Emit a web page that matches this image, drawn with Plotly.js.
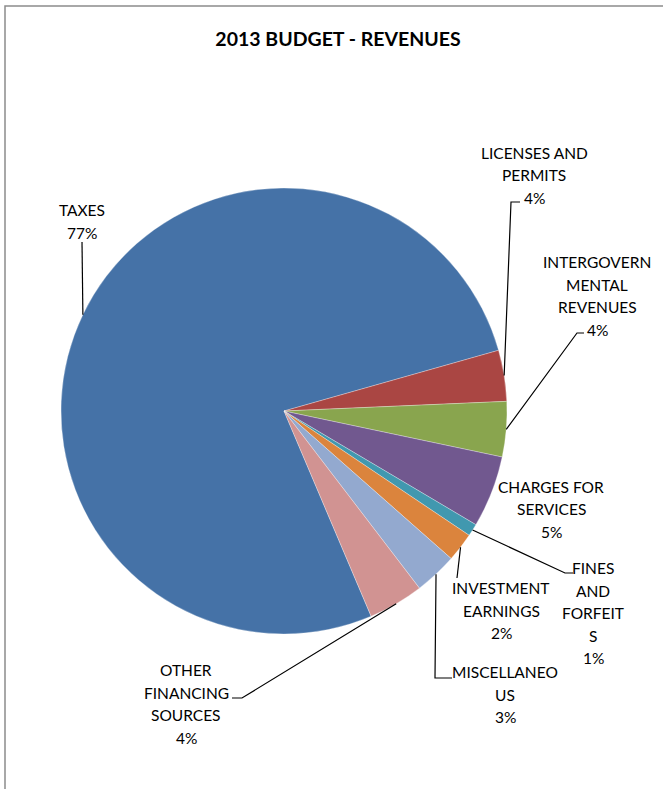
<!DOCTYPE html>
<html>
<head>
<meta charset="utf-8">
<script src="https://cdn.plot.ly/plotly-3.0.1.min.js"></script>
<style>html,body{margin:0;padding:0;background:#fff;}#chart{width:663px;height:789px;}</style>
</head>
<body>
<div id="chart"></div>
<script>
// ---- data ----
const categories = ["TAXES", "LICENSES AND PERMITS", "INTERGOVERNMENTAL REVENUES", "CHARGES FOR SERVICES",
  "FINES AND FORFEITS", "INVESTMENT EARNINGS", "MISCELLANEOUS", "OTHER FINANCING SOURCES"];
const values = [77.0, 3.7, 4.0, 5.2, 0.9, 2.1, 3.1, 4.0];
const labelLines = [
  ["TAXES"],
  ["LICENSES AND", "PERMITS"],
  ["INTERGOVERN", "MENTAL", "REVENUES"],
  ["CHARGES FOR", "SERVICES"],
  ["FINES", "AND", "FORFEIT", "S"],
  ["INVESTMENT", "EARNINGS"],
  ["MISCELLANEO", "US"],
  ["OTHER", "FINANCING", "SOURCES"]
];
const colors = ["#4572A7", "#AA4643", "#89A54E", "#71588F", "#4198AF", "#DB843D", "#93A9CF", "#D19392"];
const titleText = "2013 BUDGET - REVENUES";

// ---- layout constants (pixels) ----
const W = 663, H = 789;
const CX = 284, CY = 411, R = 223;
const ROT = 157;
const LINE_H = 22.5;
const labelPos = [[82,210],[534,153],[597,262],[551,487],[593,568],[501,588],[505,672],[186,670]];
const leaderPts = {
  0: [[82,242]],
  1: [[511,202],[520,202]],
  2: [[577,333],[584,333]],
  4: [[565,573],[573,573]],
  5: [[457,578]],
  6: [[435,678],[452,678]],
  7: [[242,698],[232,698]]
};
const FONT = "Lato, 'Open Sans', sans-serif";

const X = px => px / W;
const Y = py => 1 - py / H;

const total = values.reduce((a,b)=>a+b,0);
const annotations = [];
labelLines.forEach((lines, i) => {
  const pct = Math.round(values[i] / total * 100) + "%";
  const all = lines.concat([pct]);
  all.forEach((t, k) => {
    annotations.push({
      text: t, showarrow: false, xref: "paper", yref: "paper",
      x: X(labelPos[i][0]), y: Y(labelPos[i][1] + k * LINE_H),
      xanchor: "center", yanchor: "middle",
      font: {family: FONT, size: 15.5, color: "#000"}
    });
  });
});

const shapes = [];
let cum = 0;
values.forEach((v, i) => {
  const mid = (ROT + (cum + v / 2) / total * 360) * Math.PI / 180;
  cum += v;
  if (!leaderPts[i]) return;
  const sx = CX + R * Math.sin(mid), sy = CY - R * Math.cos(mid);
  let path = `M ${X(sx)} ${Y(sy)}`;
  leaderPts[i].forEach(p => { path += ` L ${X(p[0])} ${Y(p[1])}`; });
  shapes.push({type: "path", xref: "paper", yref: "paper", path: path, line: {color: "#000", width: 1.2}});
});
// chart frame
shapes.push({type: "rect", xref: "paper", yref: "paper", x0: X(5), y0: Y(800), x1: X(672), y1: Y(6),
  line: {color: "#8c8c8c", width: 1.5}, fillcolor: "rgba(0,0,0,0)"});

const trace = {
  type: "pie",
  labels: categories,
  values: values,
  sort: false,
  direction: "clockwise",
  rotation: ROT,
  textinfo: "none",
  hoverinfo: "label+percent",
  marker: {colors: colors, line: {color: "rgba(255,255,255,0.6)", width: 0.5}},
  domain: {x: [X(CX - R), X(CX + R)], y: [Y(CY + R), Y(CY - R)]},
  showlegend: false
};

const layout = {
  width: W, height: H,
  margin: {l: 0, r: 0, t: 0, b: 0},
  paper_bgcolor: "#fff",
  title: {text: "<b>" + titleText + "</b>", x: X(338), xanchor: "center", y: Y(39), yanchor: "middle",
    xref: "paper", yref: "paper", font: {family: FONT, size: 19.5, color: "#000"}},
  annotations: annotations,
  shapes: shapes,
  showlegend: false
};

Plotly.newPlot("chart", [trace], layout, {displayModeBar: false, staticPlot: true});
</script>
</body>
</html>
